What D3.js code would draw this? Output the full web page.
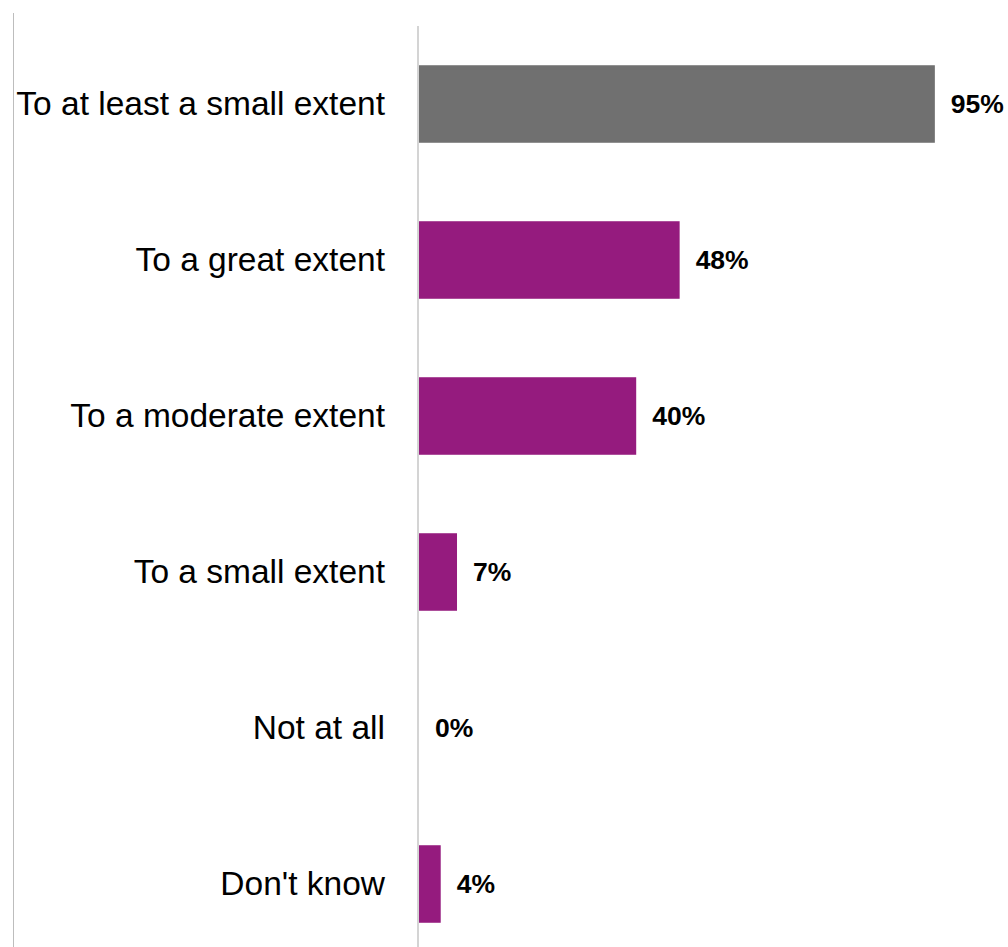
<!DOCTYPE html>
<html>
<head>
<meta charset="utf-8">
<script src="https://cdn.jsdelivr.net/npm/d3@7"></script>
<style>
  html, body { margin: 0; padding: 0; background: #fff; }
  svg { display: block; }
</style>
</head>
<body>
<div id="chart"></div>
<script>
// Responses by extent
const categories = [
  "To at least a small extent",
  "To a great extent",
  "To a moderate extent",
  "To a small extent",
  "Not at all",
  "Don't know"
];
const values = [95, 48, 40, 7, 0, 4];
const valueLabels = ["95%", "48%", "40%", "7%", "0%", "4%"];
const barColors = ["#707070", "#951b7e", "#951b7e", "#951b7e", "#951b7e", "#951b7e"];

const W = 1008, H = 947;
const svg = d3.select("#chart").append("svg")
  .attr("width", W).attr("height", H);

const x = d3.scaleLinear().domain([0, 100]).range([419, 962]);
const y = d3.scaleBand().domain(categories).range([26, 962]).paddingInner(0.503).paddingOuter(0.2515);

// outer frame edge on the left
svg.append("line")
  .attr("x1", 13.5).attr("x2", 13.5).attr("y1", 13).attr("y2", H)
  .attr("stroke", "#bdbdbd").attr("stroke-width", 1);

// bars
svg.selectAll("rect.bar").data(categories).join("rect")
  .attr("class", "bar")
  .attr("x", x(0))
  .attr("y", d => y(d))
  .attr("width", (d, i) => x(values[i]) - x(0))
  .attr("height", y.bandwidth())
  .attr("fill", (d, i) => barColors[i]);

// category axis
const axis = d3.axisLeft(y).tickSize(0).tickPadding(33);
const gAxis = svg.append("g").attr("transform", `translate(${x(0) - 1},0)`).call(axis);
gAxis.select(".domain").attr("stroke", "#d4d4d4").attr("stroke-width", 2)
  .attr("d", `M0,26V${H}`);
gAxis.selectAll("text")
  .attr("font-family", "'Liberation Sans', Arial, sans-serif")
  .attr("font-size", 33.5)
  .attr("fill", "#000");

// value labels
svg.selectAll("text.val").data(categories).join("text")
  .attr("class", "val")
  .attr("x", (d, i) => x(values[i]) + 16)
  .attr("y", d => y(d) + y.bandwidth() / 2)
  .attr("dy", "0.35em")
  .attr("font-family", "'Liberation Sans', Arial, sans-serif")
  .attr("font-size", 26.5)
  .attr("font-weight", "bold")
  .attr("fill", "#000")
  .text((d, i) => valueLabels[i]);
</script>
</body>
</html>
